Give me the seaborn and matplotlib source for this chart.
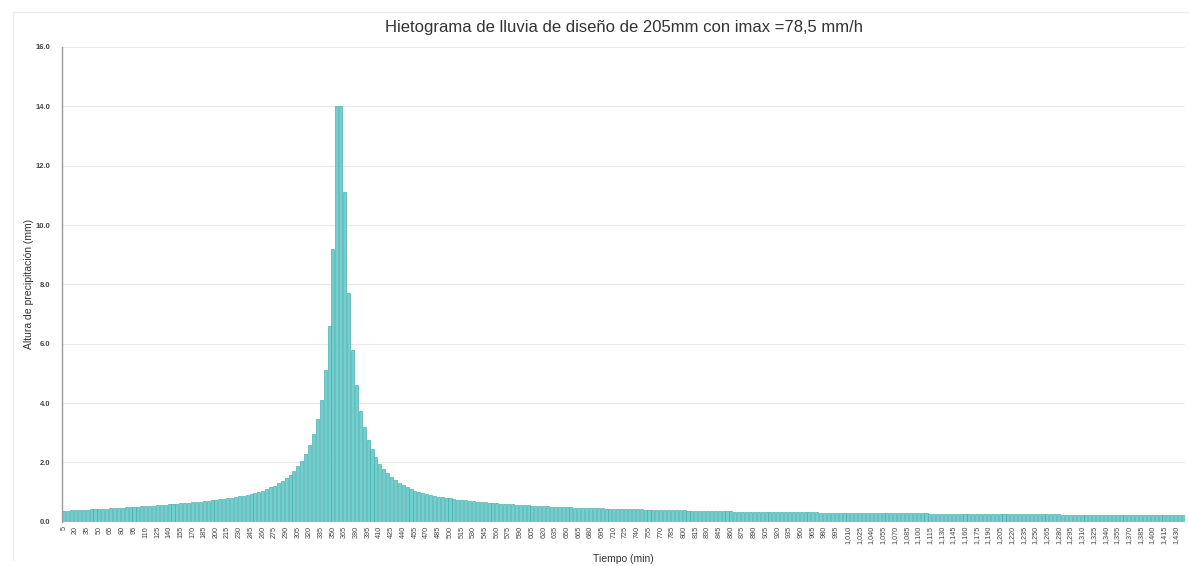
import pandas as pd
import matplotlib
matplotlib.use("Agg")
import matplotlib.pyplot as plt
from matplotlib.lines import Line2D
import seaborn as sns

# alturas de precipitacion (mm) por bloque de 5 min
izquierda = [0.37, 0.376, 0.383, 0.39, 0.397, 0.404, 0.411, 0.418, 0.425, 0.432,
             0.44, 0.447, 0.455, 0.462, 0.47, 0.478, 0.486, 0.494, 0.502, 0.51,
             0.52, 0.53, 0.54, 0.55, 0.56, 0.57, 0.58, 0.59, 0.60, 0.61,
             0.62, 0.63, 0.64, 0.655, 0.67, 0.685, 0.70, 0.715, 0.73, 0.745,
             0.76, 0.78, 0.80, 0.82, 0.84, 0.86, 0.88, 0.91, 0.94, 0.97,
             1.00, 1.05, 1.10, 1.16, 1.22, 1.30, 1.38, 1.48, 1.59, 1.72,
             1.87, 2.06, 2.30, 2.60, 2.95, 3.45, 4.10, 5.10, 6.60, 9.20]
pico = [14.0, 14.0]
derecha = [11.1, 7.7, 5.8, 4.6, 3.75, 3.2, 2.75, 2.45, 2.18, 1.96,
           1.78, 1.63, 1.50, 1.40, 1.31, 1.23, 1.16, 1.10, 1.04, 0.99,
           0.96, 0.93, 0.90, 0.87, 0.85, 0.83, 0.81, 0.79, 0.77, 0.75,
           0.735, 0.72, 0.705, 0.69, 0.68, 0.67, 0.66, 0.65, 0.635, 0.62,
           0.61, 0.60, 0.595, 0.59, 0.58, 0.57, 0.565, 0.555, 0.548, 0.54,
           0.533, 0.527, 0.52, 0.515, 0.51, 0.504, 0.498, 0.492, 0.487, 0.482,
           0.477, 0.472, 0.467, 0.462, 0.458, 0.454, 0.45, 0.446, 0.442, 0.44,
           0.436, 0.433, 0.43, 0.427, 0.424, 0.421, 0.418, 0.415, 0.412, 0.409,
           0.406, 0.403, 0.40, 0.397, 0.394, 0.391, 0.388, 0.385, 0.382, 0.379,
           0.376, 0.373, 0.371, 0.368, 0.366, 0.363, 0.36, 0.357, 0.354, 0.35,
           0.348, 0.346, 0.345, 0.343, 0.342, 0.34, 0.338, 0.337, 0.335, 0.334,
           0.332, 0.331, 0.329, 0.328, 0.326, 0.325, 0.323, 0.322, 0.32, 0.319,
           0.318, 0.316, 0.315, 0.313, 0.312, 0.311, 0.309, 0.308, 0.307, 0.305,
           0.304, 0.303, 0.302, 0.3, 0.299, 0.298, 0.297, 0.295, 0.294, 0.293,
           0.292, 0.291, 0.29, 0.289, 0.288, 0.286, 0.285, 0.284, 0.283, 0.282,
           0.281, 0.28, 0.279, 0.278, 0.277, 0.276, 0.275, 0.274, 0.273, 0.272,
           0.271, 0.27, 0.269, 0.268, 0.267, 0.266, 0.265, 0.264, 0.263, 0.262,
           0.261, 0.26, 0.259, 0.258, 0.257, 0.256, 0.255, 0.254, 0.253, 0.252,
           0.251, 0.25, 0.249, 0.248, 0.247, 0.246, 0.245, 0.244, 0.243, 0.242,
           0.241, 0.24, 0.239, 0.238, 0.237, 0.236, 0.235, 0.234, 0.233, 0.232,
           0.231, 0.23, 0.229, 0.228, 0.227, 0.226, 0.225, 0.224, 0.223, 0.222,
           0.221, 0.22, 0.22, 0.219, 0.219, 0.218]
altura = izquierda + pico + derecha
tiempo = list(range(5, 5 * len(altura) + 1, 5))
etiquetas = [f"{t:,}" for t in tiempo]

df = pd.DataFrame({"Tiempo": etiquetas, "Altura": altura})

sns.set_style("white")
plt.rcParams['font.family'] = ['Liberation Sans', 'DejaVu Sans']

fig = plt.figure(figsize=(11.89, 5.66), dpi=100)
ax = fig.add_axes([0.052, 0.078, 0.945, 0.839])

sns.barplot(data=df, x="Tiempo", y="Altura", color="#6fd0d0", width=0.78,
            edgecolor="#45a8a8", linewidth=0.45, saturation=1, ax=ax)
for p in ax.patches:
    p.set_facecolor("#6fd0d0")

ax.set_xlim(-0.5, len(altura) - 0.5)
ax.set_ylim(0, 16)
ax.set_yticks([0, 2, 4, 6, 8, 10, 12, 14, 16])
ax.set_yticklabels([f"{v:.1f}" for v in [0, 2, 4, 6, 8, 10, 12, 14, 16]], fontsize=5.5,
                   color="#444444", fontweight="bold")
ax.set_xticks(range(0, len(altura), 3))
ax.set_xticklabels(etiquetas[::3], rotation=90, fontsize=5.2, color="#444444")
ax.tick_params(axis="x", length=0, pad=3)
ax.tick_params(axis="y", length=0, pad=8)

ax.grid(axis="y", color="#e8e8e8", linewidth=0.8)
ax.set_axisbelow(True)
for s in ["top", "right", "bottom"]:
    ax.spines[s].set_visible(False)
ax.spines["left"].set_color("#9a9a9a")
ax.spines["left"].set_linewidth(1.0)

ax.set_title("Hietograma de lluvia de diseño de 205mm con imax =78,5 mm/h",
             fontsize=12, color="#333333", pad=11)
ax.set_xlabel("Tiempo (min)", fontsize=7.5, color="#333333", labelpad=7)
ax.set_ylabel("Altura de precipitación (mm)", fontsize=7.5, color="#333333", labelpad=1)

# borde tenue de la tarjeta
fig.add_artist(Line2D([0.011, 0.011], [0.01, 0.978], transform=fig.transFigure, color="#ececec", lw=1))
fig.add_artist(Line2D([0.011, 1.0], [0.978, 0.978], transform=fig.transFigure, color="#ececec", lw=1))

fig.savefig("out.png", dpi=100)
